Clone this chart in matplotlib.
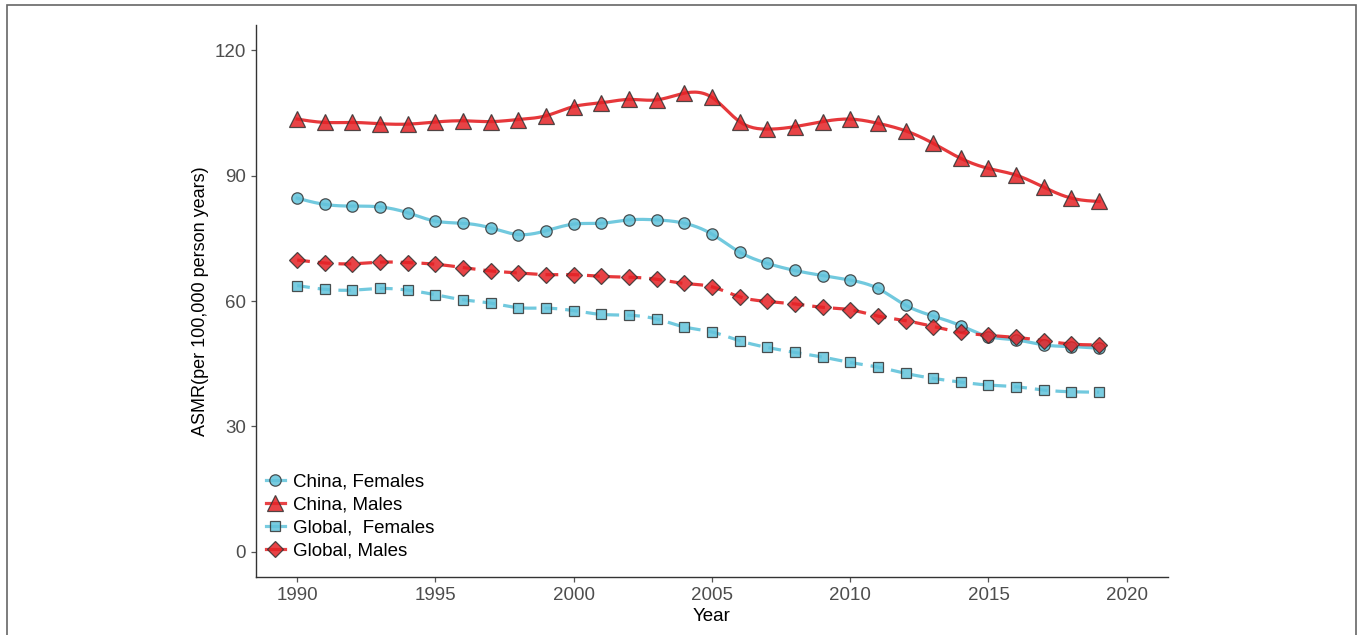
import numpy as np
import matplotlib.pyplot as plt
from matplotlib.lines import Line2D
from matplotlib.patches import Rectangle

plt.rcParams['font.family'] = ['Liberation Sans', 'DejaVu Sans']

years = np.arange(1990, 2020)

china_females = [84.6, 83.1, 82.7, 82.5, 81.1, 79.1, 78.6, 77.5, 75.9, 76.8,
                 78.4, 78.6, 79.4, 79.4, 78.6, 76.0, 71.7, 69.0, 67.3, 66.1,
                 65.0, 63.0, 59.0, 56.4, 54.1, 51.5, 50.7, 49.5, 49.1, 48.7]
china_males = [103.5, 102.7, 102.7, 102.4, 102.3, 102.8, 103.1, 102.9, 103.4, 104.3,
               106.5, 107.4, 108.2, 108.1, 109.7, 108.7, 102.9, 101.1, 101.7, 102.9,
               103.5, 102.5, 100.7, 97.7, 94.1, 91.7, 90.1, 87.2, 84.6, 83.8]
global_females = [63.7, 62.8, 62.6, 63.0, 62.6, 61.5, 60.3, 59.5, 58.4, 58.3,
                  57.7, 56.8, 56.6, 55.7, 53.8, 52.6, 50.5, 48.9, 47.7, 46.6,
                  45.3, 44.2, 42.7, 41.5, 40.6, 39.9, 39.5, 38.7, 38.3, 38.2]
global_males = [69.8, 69.1, 68.9, 69.3, 69.2, 68.8, 68.0, 67.2, 66.7, 66.3,
                66.3, 65.9, 65.7, 65.2, 64.2, 63.4, 61.0, 59.9, 59.3, 58.5,
                57.9, 56.4, 55.3, 53.9, 52.5, 51.8, 51.3, 50.5, 49.7, 49.5]

labels = ["China, Females", "China, Males", "Global,  Females", "Global, Males"]

BLUE = '#62C3DB'
RED = '#E42226'


def natural_spline(x, y, n=400):
    # natural cubic spline through the points, for a smooth line
    x = np.asarray(x, float)
    y = np.asarray(y, float)
    k = len(x)
    h = np.diff(x)
    A = np.zeros((k, k))
    r = np.zeros(k)
    A[0, 0] = A[-1, -1] = 1
    for i in range(1, k - 1):
        A[i, i - 1] = h[i - 1]
        A[i, i] = 2 * (h[i - 1] + h[i])
        A[i, i + 1] = h[i]
        r[i] = 6 * ((y[i + 1] - y[i]) / h[i] - (y[i] - y[i - 1]) / h[i - 1])
    M = np.linalg.solve(A, r)
    xs = np.linspace(x[0], x[-1], n)
    idx = np.clip(np.searchsorted(x, xs) - 1, 0, k - 2)
    x0, x1 = x[idx], x[idx + 1]
    hh = x1 - x0
    a = (x1 - xs) / hh
    b = (xs - x0) / hh
    ys = (a * y[idx] + b * y[idx + 1]
          + ((a ** 3 - a) * M[idx] + (b ** 3 - b) * M[idx + 1]) * hh ** 2 / 6)
    return xs, ys


series = [
    (china_females, BLUE, 'o', 8.2, '-'),
    (china_males, RED, '^', 11.5, '-'),
    (global_females, BLUE, 's', 7.8, '--'),
    (global_males, RED, 'D', 7.8, '--'),
]

fig = plt.figure(figsize=(13.6, 6.35), dpi=100)
ax = fig.add_axes([0.188, 0.0913, 0.671, 0.8693])

for vals, col, mk, ms, ls in series:
    xs, ys = natural_spline(years, vals)
    line, = ax.plot(xs, ys, color=col, lw=2.3, ls=ls, alpha=0.9, zorder=2)
    if ls == '--':
        line.set_dashes([4, 2.5])

handles = []
for (vals, col, mk, ms, ls), lab in zip(series, labels):
    ax.plot(years, vals, ls='none', marker=mk, ms=ms, mfc=col, mec='#333333',
            mew=0.9, alpha=0.85, zorder=3)
    handles.append(Line2D([0], [0], color=col, lw=2.3, marker=mk, ms=ms,
                          mfc=col, mec='#333333', mew=0.9, alpha=0.85, label=lab))

ax.set_xlim(1988.5, 2021.5)
ax.set_ylim(-6, 126)
ax.set_xticks([1990, 1995, 2000, 2005, 2010, 2015, 2020])
ax.set_yticks([0, 30, 60, 90, 120])

for s in ['top', 'right']:
    ax.spines[s].set_visible(False)
for s in ['left', 'bottom']:
    ax.spines[s].set_color('#333333')
    ax.spines[s].set_linewidth(1.0)

ax.tick_params(axis='both', colors='#555555', labelcolor='#4D4D4D',
               labelsize=13.5, length=3.5, width=0.9)
ax.set_xlabel('Year', fontsize=13.5, labelpad=3)
ax.set_ylabel('ASMR(per 100,000 person years)', fontsize=13, labelpad=4)

leg = ax.legend(handles=handles, loc='lower left', bbox_to_anchor=(-0.004, 0.007),
                frameon=False, fontsize=13.5, handlelength=1.0,
                handletextpad=0.45, labelspacing=0.3, borderaxespad=0.35)

# thin frame around the whole figure
fig.patches.append(Rectangle((0.0054, -0.05), 0.9916, 1.042, transform=fig.transFigure,
                             fill=False, edgecolor='#666666', lw=1.2))

fig.savefig('out.png', dpi=100)
